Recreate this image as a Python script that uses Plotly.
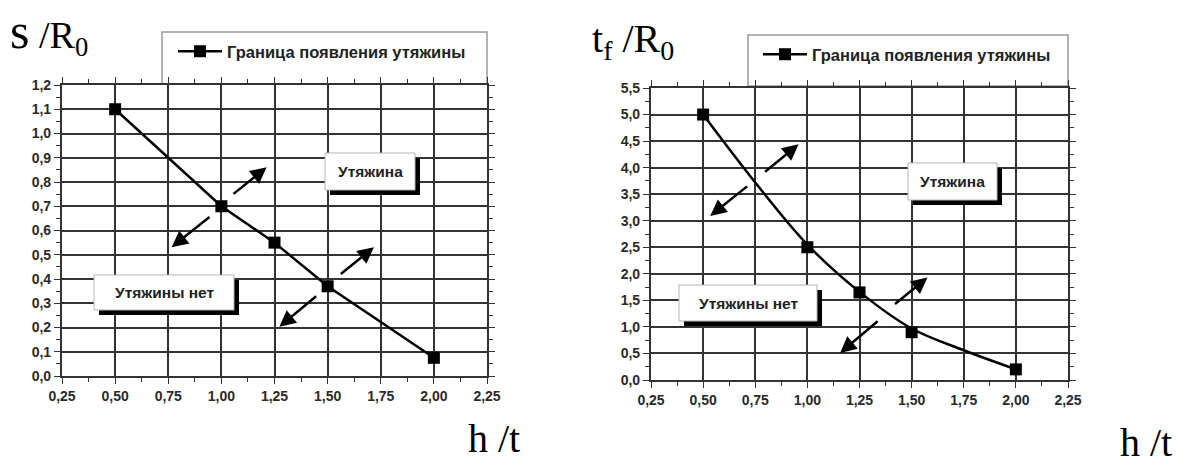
import plotly.graph_objects as go

W, H = 1178, 466

# ---- data ----
ht_left = [0.5, 1.0, 1.25, 1.5, 2.0]
s_R0 = [1.1, 0.7, 0.55, 0.37, 0.075]

ht_right = [0.5, 1.0, 1.25, 1.5, 2.0]
tf_R0 = [5.0, 2.5, 1.65, 0.9, 0.2]
# fitted boundary curve
curve_x = [0.5, 0.75, 1.0, 1.25, 1.5, 1.75, 2.0]
curve_y = [5.0, 3.72, 2.55, 1.66, 0.97, 0.56, 0.2]

x_ticks = [0.25, 0.5, 0.75, 1.0, 1.25, 1.5, 1.75, 2.0, 2.25]
legend_label = "Граница появления утяжины"
label_yes = "Утяжина"
label_no = "Утяжины нет"

# arrows: (x_tail, y_tail, x_head, y_head)
arrows_left = [(1.05, 0.746, 1.213, 0.861), (0.951, 0.661, 0.766, 0.531),
               (1.555, 0.416, 1.718, 0.531), (1.453, 0.334, 1.273, 0.203)]
arrows_right = [(0.79, 3.90, 0.958, 4.44), (0.718, 3.67, 0.534, 3.09),
                (1.413, 1.41, 1.576, 1.93), (1.344, 1.13, 1.157, 0.51)]


def px(x):
    return x / W


def py(y):
    return 1 - y / H


fig = go.Figure()

# left chart
fig.add_trace(go.Scatter(x=ht_left, y=s_R0, mode="lines+markers", name=legend_label,
                         line=dict(color="black", width=2.5),
                         marker=dict(symbol="square", size=12, color="black"),
                         xaxis="x", yaxis="y", legend="legend"))
# right chart
fig.add_trace(go.Scatter(x=curve_x, y=curve_y, mode="lines", line_shape="spline",
                         line=dict(color="black", width=2.5), showlegend=False,
                         xaxis="x2", yaxis="y2"))
fig.add_trace(go.Scatter(x=ht_right, y=tf_R0, mode="markers", showlegend=False,
                         marker=dict(symbol="square", size=12, color="black"),
                         xaxis="x2", yaxis="y2"))
fig.add_trace(go.Scatter(x=[None], y=[None], mode="lines+markers", name=legend_label,
                         line=dict(color="black", width=2.5),
                         marker=dict(symbol="square", size=12, color="black"),
                         xaxis="x2", yaxis="y2", legend="legend2"))

sans = "Liberation Sans, Arial"
tickfont = dict(family=sans, size=14, color="#2a2a2a", weight="bold")
axis_common = dict(showgrid=True, gridcolor="#333333", gridwidth=1.6,
                   showline=True, linecolor="#333333", linewidth=2.2, mirror="ticks",
                   ticks="outside", ticklen=6, tickcolor="#333333", tickwidth=1.4,
                   zeroline=False, tickfont=tickfont, fixedrange=True, automargin=False)
minor_x = dict(ticks="outside", ticklen=4, dtick=0.125, tick0=0.25, tickcolor="#333333",
               showgrid=False)

fig.update_layout(
    template="none",
    width=W, height=H, margin=dict(l=0, r=0, t=0, b=0, autoexpand=False),
    paper_bgcolor="white", plot_bgcolor="white", separators=", ",
    xaxis=dict(domain=[px(62), px(487)], range=[0.25, 2.25], tickvals=x_ticks,
               tickformat=".2f", anchor="y", minor=minor_x, **axis_common),
    yaxis=dict(domain=[py(376), py(85)], range=[0, 1.2], dtick=0.1, tick0=0,
               tickformat=".1f", anchor="x",
               minor=dict(ticks="outside", ticklen=4, dtick=0.05, tick0=0,
                          tickcolor="#333333", showgrid=False),
               **axis_common),
    xaxis2=dict(domain=[px(651), px(1068)], range=[0.25, 2.25], tickvals=x_ticks,
                tickformat=".2f", anchor="y2", minor=minor_x, **axis_common),
    yaxis2=dict(domain=[py(380), py(88)], range=[0, 5.5], dtick=0.5, tick0=0,
                tickformat=".1f", anchor="x2",
                minor=dict(ticks="outside", ticklen=4, dtick=0.25, tick0=0,
                           tickcolor="#333333", showgrid=False),
                **axis_common),
    legend=dict(x=px(173), y=py(34), xanchor="left", yanchor="top",
                bgcolor="rgba(0,0,0,0)", borderwidth=0,
                font=dict(family=sans, size=16.5, color="#222", weight="bold"),
                itemwidth=44),
    legend2=dict(x=px(758), y=py(37), xanchor="left", yanchor="top",
                 bgcolor="rgba(0,0,0,0)", borderwidth=0,
                 font=dict(family=sans, size=16.5, color="#222", weight="bold"),
                 itemwidth=44),
    showlegend=True,
)

shapes = []
# legend boxes
for (x0, y0, x1, y1) in [(162, 32, 487, 84), (748, 35, 1068, 86)]:
    shapes.append(dict(type="rect", xref="paper", yref="paper", x0=px(x0), x1=px(x1),
                       y0=py(y1), y1=py(y0), line=dict(color="#9a9a9a", width=1.5),
                       fillcolor="white", layer="below"))

annots = []
boxes = [((325, 153, 415, 190), label_yes), ((94, 275, 234, 310), label_no),
         ((908, 163, 997, 200), label_yes), ((679, 285, 817, 321), label_no)]
for (x0, y0, x1, y1), txt in boxes:
    shapes.append(dict(type="rect", xref="paper", yref="paper", x0=px(x0 + 5), x1=px(x1 + 5),
                       y0=py(y1 + 5), y1=py(y0 + 5), line=dict(width=0), fillcolor="black"))
    shapes.append(dict(type="rect", xref="paper", yref="paper", x0=px(x0), x1=px(x1),
                       y0=py(y1), y1=py(y0), line=dict(color="#b5b5b5", width=1),
                       fillcolor="white"))
    annots.append(dict(x=px((x0 + x1) / 2), y=py((y0 + y1) / 2), xref="paper", yref="paper",
                       xanchor="center", yanchor="middle",
                       text=txt, showarrow=False,
                       font=dict(family=sans, size=15.5, color="#222", weight="bold")))

for arrs, xr, yr in [(arrows_left, "x", "y"), (arrows_right, "x2", "y2")]:
    for (xt, yt, xh, yh) in arrs:
        annots.append(dict(x=xh, y=yh, ax=xt, ay=yt, xref=xr, yref=yr, axref=xr, ayref=yr,
                           text="", showarrow=True, arrowhead=2, arrowsize=1.3,
                           arrowwidth=2.5, arrowcolor="black"))

serif = "Liberation Serif, Times New Roman, serif"
annots += [
    dict(x=px(8), y=py(64), xref="paper", yref="paper", xanchor="left", yanchor="bottom",
         text="<span style='font-size:50px'>s</span> /R<sub>0</sub>", showarrow=False,
         font=dict(family=serif, size=38, color="black")),
    dict(x=px(590), y=py(68), xref="paper", yref="paper", xanchor="left", yanchor="bottom",
         text="t<sub>f</sub> /R<sub>0</sub>", showarrow=False,
         font=dict(family=serif, size=40, color="black")),
    dict(x=px(522), y=py(438), xref="paper", yref="paper", xanchor="right", yanchor="middle",
         text="h /t", showarrow=False, font=dict(family=serif, size=40, color="black")),
    dict(x=px(1174), y=py(442), xref="paper", yref="paper", xanchor="right", yanchor="middle",
         text="h /t", showarrow=False, font=dict(family=serif, size=40, color="black")),
]

fig.update_layout(shapes=shapes, annotations=annots)
fig.write_html("out.html", config={"displayModeBar": False},
               post_script="document.body.style.margin='0';document.body.style.overflow='hidden';")
